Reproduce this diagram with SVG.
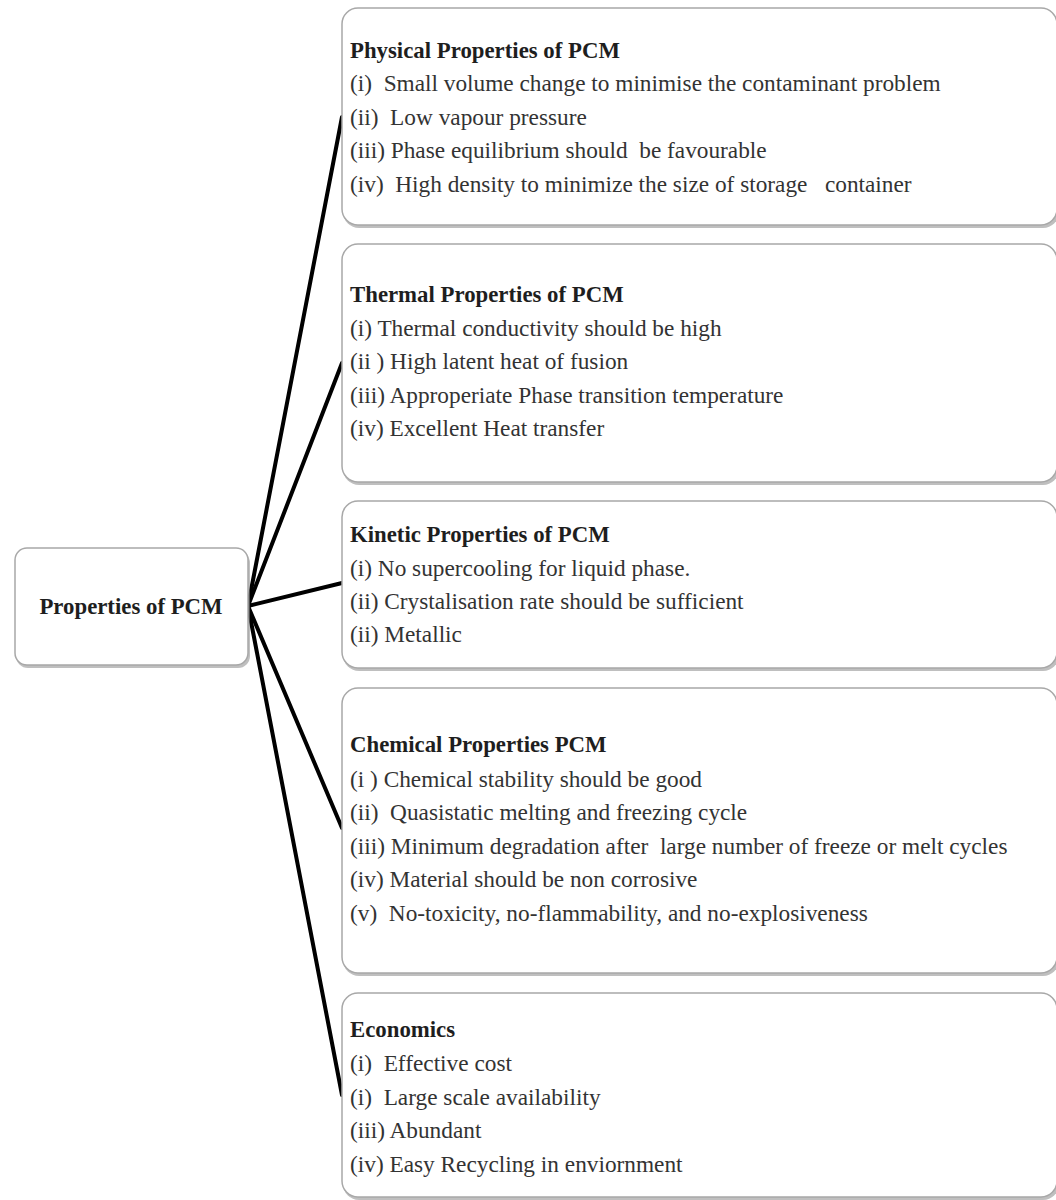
<svg xmlns="http://www.w3.org/2000/svg" width="1056" height="1200" viewBox="0 0 1056 1200">
<style>
.box{fill:#fff;stroke:#a8a8a8;stroke-width:1.5}
.sh{fill:#8a8a8a;opacity:0.55}
.t{font-family:"Liberation Serif","Times New Roman",serif;font-size:23.3px;fill:#333;white-space:pre}
.h{font-weight:bold;fill:#1e1e1e;font-size:22.8px}
.c{stroke:#000;stroke-width:4;fill:none;stroke-linecap:round}
</style>
<rect width="1056" height="1200" fill="#fff"/>
<g id="connectors">
<line class="c" x1="248" y1="606" x2="342" y2="117"/>
<line class="c" x1="248" y1="606" x2="342" y2="363"/>
<line class="c" x1="248" y1="606" x2="342" y2="583"/>
<line class="c" x1="248" y1="606" x2="342" y2="828"/>
<line class="c" x1="248" y1="606" x2="342" y2="1095"/>
</g>
<g id="center">
<rect class="sh" x="16" y="551" width="234" height="117" rx="12"/>
<rect class="box" x="15" y="548" width="233" height="117" rx="12"/>
<text class="t h" x="131" y="614" text-anchor="middle">Properties of PCM</text>
</g>
<g id="physical">
<rect class="sh" x="343" y="11" width="716" height="217" rx="16"/>
<rect class="box" x="342" y="8" width="715" height="217" rx="16"/>
<text class="t h" x="350" y="58">Physical Properties of PCM</text>
<text class="t" x="350" y="91">(i)  Small volume change to minimise the contaminant problem</text>
<text class="t" x="350" y="125">(ii)  Low vapour pressure</text>
<text class="t" x="350" y="158">(iii) Phase equilibrium should  be favourable</text>
<text class="t" x="350" y="192">(iv)  High density to minimize the size of storage   container</text>
</g>
<g id="thermal">
<rect class="sh" x="343" y="247" width="716" height="238" rx="16"/>
<rect class="box" x="342" y="244" width="715" height="238" rx="16"/>
<text class="t h" x="350" y="302">Thermal Properties of PCM</text>
<text class="t" x="350" y="336">(i) Thermal conductivity should be high</text>
<text class="t" x="350" y="369">(ii ) High latent heat of fusion</text>
<text class="t" x="350" y="403">(iii) Approperiate Phase transition temperature</text>
<text class="t" x="350" y="436">(iv) Excellent Heat transfer</text>
</g>
<g id="kinetic">
<rect class="sh" x="343" y="504" width="716" height="167" rx="16"/>
<rect class="box" x="342" y="501" width="715" height="167" rx="16"/>
<text class="t h" x="350" y="542">Kinetic Properties of PCM</text>
<text class="t" x="350" y="576">(i) No supercooling for liquid phase.</text>
<text class="t" x="350" y="609">(ii) Crystalisation rate should be sufficient</text>
<text class="t" x="350" y="642">(ii) Metallic</text>
</g>
<g id="chemical">
<rect class="sh" x="343" y="691" width="716" height="285" rx="16"/>
<rect class="box" x="342" y="688" width="715" height="285" rx="16"/>
<text class="t h" x="350" y="752">Chemical Properties PCM</text>
<text class="t" x="350" y="787">(i ) Chemical stability should be good</text>
<text class="t" x="350" y="820">(ii)  Quasistatic melting and freezing cycle</text>
<text class="t" x="350" y="854">(iii) Minimum degradation after  large number of freeze or melt cycles</text>
<text class="t" x="350" y="887">(iv) Material should be non corrosive</text>
<text class="t" x="350" y="921">(v)  No-toxicity, no-flammability, and no-explosiveness</text>
</g>
<g id="economics">
<rect class="sh" x="343" y="996" width="716" height="204" rx="16"/>
<rect class="box" x="342" y="993" width="715" height="204" rx="16"/>
<text class="t h" x="350" y="1037">Economics</text>
<text class="t" x="350" y="1071">(i)  Effective cost</text>
<text class="t" x="350" y="1105">(i)  Large scale availability</text>
<text class="t" x="350" y="1138">(iii) Abundant</text>
<text class="t" x="350" y="1172">(iv) Easy Recycling in enviornment</text>
</g>
</svg>
